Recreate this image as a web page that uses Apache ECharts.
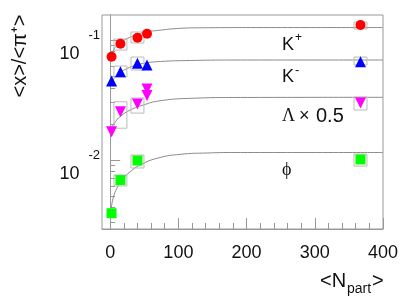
<!DOCTYPE html>
<html>
<head>
<meta charset="utf-8">
<script src="https://cdn.jsdelivr.net/npm/echarts@6/dist/echarts.min.js"></script>
<style>html,body{margin:0;padding:0;background:#fff}#c{width:409px;height:307px}</style>
</head>
<body>
<div id="c"></div>
<script>
// ---- data ----
const npart = [2, 15, 40, 54, 367];
const kPlus = [0.0726, 0.0931, 0.1045, 0.1128, 0.1334];
const kMinus = [0.0455, 0.0544, 0.064, 0.0619, 0.0659];
const lambdaN = [2, 15, 40, 54, 54, 367];
const lambdaHalf = [0.0172, 0.0253, 0.0293, 0.039, 0.0345, 0.0299];
const phiN = [2, 15, 40, 367];
const phi = [0.0036, 0.0068, 0.0099, 0.0101];

// systematic error boxes: [Npart, low, high]
const kPlusSys = [[15, 0.0825, 0.1019], [40, 0.0944, 0.1166], [367, 0.1236, 0.1413]];
const kMinusSys = [[15, 0.0492, 0.0607], [40, 0.0562, 0.0721], [367, 0.0619, 0.0721]];
const lambdaSys = [[15, 0.0184, 0.0306], [40, 0.0246, 0.0329], [367, 0.0261, 0.0335]];
const phiSys = [[15, 0.00607, 0.0075], [40, 0.00858, 0.011], [367, 0.0089, 0.0112]];

// fit curves
const kPlusFitN = [1.5, 4.4, 10.3, 17.6, 25, 36.8, 51.5, 69, 98.5, 132, 206, 400];
const kPlusFit = [0.0722, 0.081, 0.0909, 0.0981, 0.1029, 0.110, 0.1166, 0.120, 0.1247, 0.1264, 0.127, 0.127];
const kMinusFitN = [1.5, 7.4, 14.7, 25, 36.8, 51.5, 73.5, 117.6, 191, 400];
const kMinusFit = [0.0447, 0.0492, 0.0536, 0.0579, 0.0613, 0.0643, 0.0662, 0.0675, 0.0681, 0.0681];
const lambdaFitN = [1.5, 7.4, 14.7, 29.4, 48.5, 70.6, 117.6, 191, 400];
const lambdaFit = [0.01848, 0.02074, 0.02304, 0.0261, 0.0287, 0.031, 0.03266, 0.0332, 0.0333];
const phiFitN = [1.5, 4.9, 9.9, 17.2, 29.4, 44.1, 68.7, 102.9, 142.2, 191, 400];
const phiFit = [0.00398, 0.00494, 0.00581, 0.00681, 0.00799, 0.00909, 0.01033, 0.01115, 0.01144, 0.01155, 0.01155];

// axis ticks
const xMajor = [0, 100, 200, 300, 400];
const xMinor = [20, 40, 60, 80, 120, 140, 160, 180, 220, 240, 260, 280, 320, 340, 360, 380];
const yMajor = [0.01, 0.1];
const yMinor = [0.003, 0.004, 0.005, 0.006, 0.007, 0.008, 0.009, 0.02, 0.03, 0.04, 0.05, 0.06, 0.07, 0.08, 0.09];

const zip = (a, b) => a.map((v, i) => [v, b[i]]);

const FONT = 'Liberation Sans';
const AX = '#999';
const YMIN = 0.00266, YMAX = 0.1616, XMIN = -12, XMAX = 400;

function boxSeries(data) {
  return {
    type: 'custom', data: data, z: 2, silent: true,
    renderItem: function (params, api) {
      const x = api.value(0), lo = api.value(1), hi = api.value(2);
      const p1 = api.coord([x - 9.5, hi]);
      const p2 = api.coord([x + 9.5, lo]);
      return {
        type: 'rect',
        shape: { x: p1[0], y: p1[1], width: p2[0] - p1[0], height: p2[1] - p1[1] },
        style: { fill: 'none', stroke: '#bbbbbb', lineWidth: 1 }
      };
    }
  };
}
function fitSeries(n, v) {
  return {
    type: 'line', data: zip(n, v), smooth: true, showSymbol: false, z: 1, silent: true,
    lineStyle: { color: '#8a8a8a', width: 1 }, clip: true
  };
}
function markSeries(n, v, symbol, color, size, rot) {
  return {
    type: 'scatter', data: zip(n, v), symbol: symbol, symbolSize: size, symbolRotate: rot || 0,
    itemStyle: { color: color, opacity: 1 }, z: 5
  };
}

const chart = echarts.init(document.getElementById('c'), null, { renderer: 'canvas' });
chart.setOption({
  animation: false,
  backgroundColor: '#fff',
  grid: { left: 102, right: 26, top: 15, bottom: 78, show: true, borderColor: AX, borderWidth: 1, backgroundColor: 'transparent' },
  xAxis: [
    {
      type: 'value', min: XMIN, max: XMAX,
      axisLine: { show: true, lineStyle: { color: AX } },
      splitLine: { show: false },
      axisTick: { show: true, inside: true, length: 11, customValues: xMajor, lineStyle: { color: AX } },
      axisLabel: { customValues: xMajor, fontFamily: FONT, fontSize: 18, color: '#111', margin: 15 }
    },
    {
      type: 'value', min: XMIN, max: XMAX, position: 'bottom', gridIndex: 0,
      axisLine: { show: false }, splitLine: { show: false },
      axisTick: { show: true, inside: true, length: 6, customValues: xMinor, lineStyle: { color: AX } },
      axisLabel: { show: false }
    }
  ],
  yAxis: [
    {
      type: 'log', min: YMIN, max: YMAX,
      axisLine: { show: true, lineStyle: { color: AX } },
      splitLine: { show: false },
      axisTick: { show: true, inside: true, length: 10, customValues: yMajor, lineStyle: { color: AX } },
      axisLabel: {
        customValues: yMajor, margin: 2, padding: [28, 0, 0, 0],
        formatter: function (v) { return '{b|10}{e|' + Math.round(Math.log10(v)) + '}'; },
        rich: {
          b: { fontFamily: FONT, fontSize: 18, color: '#111', verticalAlign: 'bottom' },
          e: { fontFamily: FONT, fontSize: 13, color: '#111', lineHeight: 13, padding: [0, 0, 21, 9], verticalAlign: 'bottom' }
        }
      }
    },
    {
      type: 'log', min: YMIN, max: YMAX, position: 'left', gridIndex: 0,
      axisLine: { show: false }, splitLine: { show: false },
      axisTick: { show: true, inside: true, length: 5, customValues: yMinor, lineStyle: { color: AX } },
      axisLabel: { show: false }
    }
  ],
  series: [
    fitSeries(kPlusFitN, kPlusFit),
    fitSeries(kMinusFitN, kMinusFit),
    fitSeries(lambdaFitN, lambdaFit),
    fitSeries(phiFitN, phiFit),
    boxSeries(kPlusSys), boxSeries(kMinusSys), boxSeries(lambdaSys), boxSeries(phiSys),
    markSeries(npart, kPlus, 'circle', '#ff0000', 10),
    markSeries(npart, kMinus, 'triangle', '#0000ff', 11),
    markSeries(lambdaN, lambdaHalf, 'triangle', '#ff00ff', 11, 180),
    markSeries(phiN, phi, 'rect', '#00ff00', 10)
  ],
  graphic: [
    { type: 'text', x: 20, y: 56, rotation: Math.PI / 2,
      style: { text: '<x>/<π⁺>', font: '20px "Liberation Sans"', fill: '#111', align: 'center', verticalAlign: 'middle' } },
    { type: 'text', x: 320, y: 281, style: { text: '<N', font: '20px "Liberation Sans"', fill: '#111', align: 'left', verticalAlign: 'middle' } },
    { type: 'text', x: 347, y: 289, style: { text: 'part', font: '14px "Liberation Sans"', fill: '#111', align: 'left', verticalAlign: 'middle' } },
    { type: 'text', x: 372, y: 281, style: { text: '>', font: '20px "Liberation Sans"', fill: '#111', align: 'left', verticalAlign: 'middle' } },
    { type: 'text', x: 282, y: 45, style: { text: 'K', font: '18px "Liberation Sans"', fill: '#111', align: 'left', verticalAlign: 'middle' } },
    { type: 'text', x: 295, y: 38, style: { text: '+', font: '12px "Liberation Sans"', fill: '#111', align: 'left', verticalAlign: 'middle' } },
    { type: 'text', x: 282, y: 77, style: { text: 'K', font: '18px "Liberation Sans"', fill: '#111', align: 'left', verticalAlign: 'middle' } },
    { type: 'text', x: 295, y: 70, style: { text: '-', font: '13px "Liberation Sans"', fill: '#111', align: 'left', verticalAlign: 'middle' } },
    { type: 'text', x: 282, y: 116, style: { text: 'Λ', font: '18px "Liberation Serif"', fill: '#111', align: 'left', verticalAlign: 'middle' } },
    { type: 'text', x: 299, y: 116, style: { text: '×', font: '18px "Liberation Sans"', fill: '#111', align: 'left', verticalAlign: 'middle' } },
    { type: 'text', x: 316, y: 116, style: { text: '0.5', font: '20px "Liberation Sans"', fill: '#111', align: 'left', verticalAlign: 'middle' } },
    { type: 'text', x: 282, y: 170, style: { text: 'ϕ', font: '18px "Liberation Serif"', fill: '#111', align: 'left', verticalAlign: 'middle' } }
  ]
});
</script>
</body>
</html>
